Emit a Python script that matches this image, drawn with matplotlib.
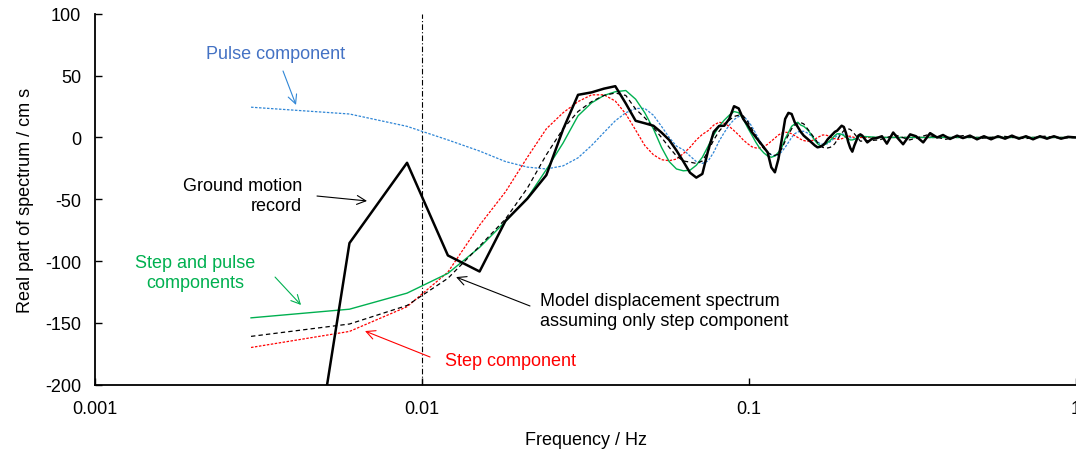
import numpy as np
import matplotlib
matplotlib.use('Agg')
import matplotlib.pyplot as plt

plt.rcParams['font.family'] = ['Liberation Sans', 'DejaVu Sans']
plt.rcParams['axes.unicode_minus'] = False

# frequency sampling of the spectra: 0.003 Hz steps
df_hz = 0.003
n_low = 73

record_low = [
    -590, -85.5, -20.5, -95.5, -108.5, -67.5, -49.5, -30.5, 6.5, 34.5,
    36.5, 39.5, 41.5, 27.5, 13.5, 11.5, 9.5, 4, -2, -10.5,
    -19.5, -28.5, -32.5, -29.5, -10.5, 4.5, 9.3, 9.5, 15, 25.3,
    23.5, 15, 10.2, 4.5, 0.1, -3.9, -8, -12, -24.2, -28.2,
    -17.5, -1.5, 15, 19.9, 19, 12.3, 8.5, 4.5, 1.5, -0.5,
    -2.5, -4.5, -6.5, -8, -7.5, -6.5, -4.5, -1.5, 0.5, 2.5,
    4.5, 5.5, 7.5, 9.5, 8.5, 3.5, -3.5, -8.5, -11.5, -6.5,
    -2.5, 1.5, 2.5,
]
record_tail_freq = [
    0.222, 0.230, 0.238, 0.246, 0.255, 0.264, 0.276, 0.286, 0.296, 0.311,
    0.324, 0.341, 0.358, 0.376, 0.392, 0.412, 0.433, 0.451, 0.474, 0.498,
    0.523, 0.550, 0.577, 0.607, 0.637, 0.669, 0.703, 0.739, 0.776, 0.815,
    0.856, 0.900, 0.945, 1.0,
]
record_tail = [
    1.5, -4, -1, -0.5, 1, -5, 4, -1, -5.5, 2.5,
    1, -4, 3.5, 0, 2, -1.2, 1.5, -0.5, 1.5, -1.5,
    1, -1.5, 1, -1, 1.5, -1, 1, -1.5, 1, -1,
    1, -1, 0.5, 0,
]

step_pulse = [
    -146, -139, -126, -110, -89, -68, -49, -26, -4.5, 17.5,
    28, 34, 37, 38, 31, 20, 7, -8, -19.5, -25.5,
    -27, -26.5, -22.5, -16, -7, 2, 9, 14, 18, 21,
    20, 15, 8, 2, -4, -9, -12.5, -15, -16, -15,
    -12, -8, -1, 4, 9, 11, 12.3, 10, 9, 7,
    4.5, 1, -2.5, -5, -6.5, -6.6, -5.5, -4, -2.5, -0.5,
    1.5, 3, 3, 2.5, 1.5, 0, -1, -2, -2, -1.5,
    -0.5, 0.5, 1,
]
step_only = [
    -170, -157, -137, -109, -71, -44, -16, 7, 20, 29,
    34.5, 34.5, 29.5, 19, 6, -6.5, -14, -18, -18.8, -17.5,
    -13, -8, -2, 2.5, 5.5, 10, 12.3, 11.5, 9, 5.5,
    2, -2, -5, -7.5, -8.5, -8.5, -7.5, -5.5, -3, -0.5,
    2, 3.5, 4.2, 4, 3, 1.5, 0, -1.5, -2.5, -3,
    -3, -2.5, -1.5, 0, 1, 2, 2, 1.5, 0.5, -0.5,
    -1, -1.5, -1.5, -1, -0.5, 0.5, 1, 1, 0.5, 0,
    -0.5, -0.5, 0,
]
pulse_only = [
    24.5, 19, 9, -2, -11, -19.5, -24, -25.5, -23, -16.5,
    -6.5, 4, 13.5, 20, 23.5, 23.5, 18, 9, 0, -7,
    -10, -15, -19.5, -21, -19, -12, -3, 4, 10, 14.5,
    17, 17, 14, 9, 3, -3, -8, -12, -14, -15,
    -14, -11.5, -8, -4, 0, 3, 4.5, 5, 5, 4,
    2.5, 0.5, -1.5, -3.5, -5, -5.5, -5.5, -5, -3.5, -2,
    0, 1.5, 2.5, 3, 2.5, 2, 1, 0, -1, -1.5,
    -1.5, -1, 0,
]
model_step = [
    -161, -151, -136, -114, -88, -66, -41, -14, 7, 21,
    29, 34, 36, 34, 23, 16, 8, 0, -8, -15,
    -19, -20, -21, -19, -11, -2, 5, 10, 14, 17,
    18, 17.5, 13, 7, 1, -5, -9, -12, -14, -14.5,
    -13.5, -9, -3, 2, 7, 10, 11, 12, 11, 8,
    5, 2, -1, -4, -6.5, -8, -8.5, -8.5, -8, -7,
    -5, -2, 1, 3.5, 5.5, 6.5, 7, 6.5, 5, 3,
    1, -1, -3,
]
model_tail_freq = [0.25, 0.28, 0.31, 0.35, 0.40, 0.45, 0.50, 0.60, 0.70, 0.80, 0.90, 1.0]
model_step_tail = [-2, 2, -2, 2, -1.5, 1.5, -1, 1, -1, 1, -0.5, 0]
smooth_tail = [0, 0, 0, 0, 0, 0, 0, 0, 0, 0, 0, 0]

f_low = df_hz * np.arange(1, n_low + 1)
f_rec = np.concatenate([f_low, record_tail_freq])
v_rec = np.concatenate([record_low, record_tail])
f_mod = np.concatenate([f_low, model_tail_freq])

fig = plt.figure(figsize=(10.76, 4.52), dpi=100)
ax = fig.add_axes([0.0883, 0.147, 0.9117, 0.82])

blue = '#2F86D6'
red = '#FF0000'
green = '#00B050'

ax.axvline(0.01, color='black', lw=0.8, ls=(0, (5, 2, 1, 2)))
ax.plot(f_mod, np.concatenate([pulse_only, smooth_tail]), color=blue, lw=0.9, ls=(0, (2, 1.2)))
ax.plot(f_mod, np.concatenate([step_only, smooth_tail]), color=red, lw=0.9, ls=(0, (2, 1.2)))
ax.plot(f_mod, np.concatenate([step_pulse, smooth_tail]), color=green, lw=1.0)
ax.plot(f_mod, np.concatenate([model_step, model_step_tail]), color='black', lw=0.9, ls=(0, (3.5, 2.5)))
ax.plot(f_rec, v_rec, color='black', lw=1.8)

ax.set_xscale('log')
ax.set_xlim(0.001, 1)
ax.set_ylim(-200, 100)
ax.set_yticks([-200, -150, -100, -50, 0, 50, 100])
ax.set_xticks([0.001, 0.01, 0.1, 1])
ax.set_xticklabels(['0.001', '0.01', '0.1', '1'])
ax.minorticks_off()
ax.tick_params(direction='in', length=5, width=1.0, labelsize=13, pad=11)
ax.tick_params(axis='y', pad=10)
for s in ['top', 'right']:
    ax.spines[s].set_visible(False)
for s in ['left', 'bottom']:
    ax.spines[s].set_linewidth(1.3)

ax.set_xlabel('Frequency / Hz', fontsize=13, labelpad=10)
ax.set_ylabel('Real part of spectrum / cm s', fontsize=13, labelpad=8)

arrow = dict(arrowstyle='->', lw=0.8, shrinkA=0, shrinkB=0, mutation_scale=16)
fs = 13

ax.annotate('', xy=(0.004118, 26.3), xytext=(0.003758, 53.8),
            arrowprops=dict(arrow, color=blue))
ax.text(0.003578, 67.6, 'Pulse component', color='#4472C4', fontsize=fs,
        ha='center', va='center')

ax.annotate('', xy=(0.00679, -51.4), xytext=(0.004774, -47.4),
            arrowprops=dict(arrow, color='black'))
ax.text(0.004295, -47, 'Ground motion\nrecord', color='black', fontsize=fs,
        ha='right', va='center', linespacing=1.25, multialignment='right')

ax.annotate('', xy=(0.004266, -135.6), xytext=(0.003553, -113),
            arrowprops=dict(arrow, color=green))
ax.text(0.002022, -109.3, 'Step and pulse\ncomponents', color=green, fontsize=fs,
        ha='center', va='center', linespacing=1.25)

ax.annotate('', xy=(0.01271, -113), xytext=(0.02139, -136.4),
            arrowprops=dict(arrow, color='black'))
ax.text(0.02297, -140, 'Model displacement spectrum\nassuming only step component',
        color='black', fontsize=fs, ha='left', va='center', linespacing=1.25)

ax.annotate('', xy=(0.006694, -156.7), xytext=(0.01058, -177.7),
            arrowprops=dict(arrow, color=red))
ax.text(0.01175, -180.2, 'Step component', color=red, fontsize=fs,
        ha='left', va='center')

fig.savefig('out.png', dpi=100)
